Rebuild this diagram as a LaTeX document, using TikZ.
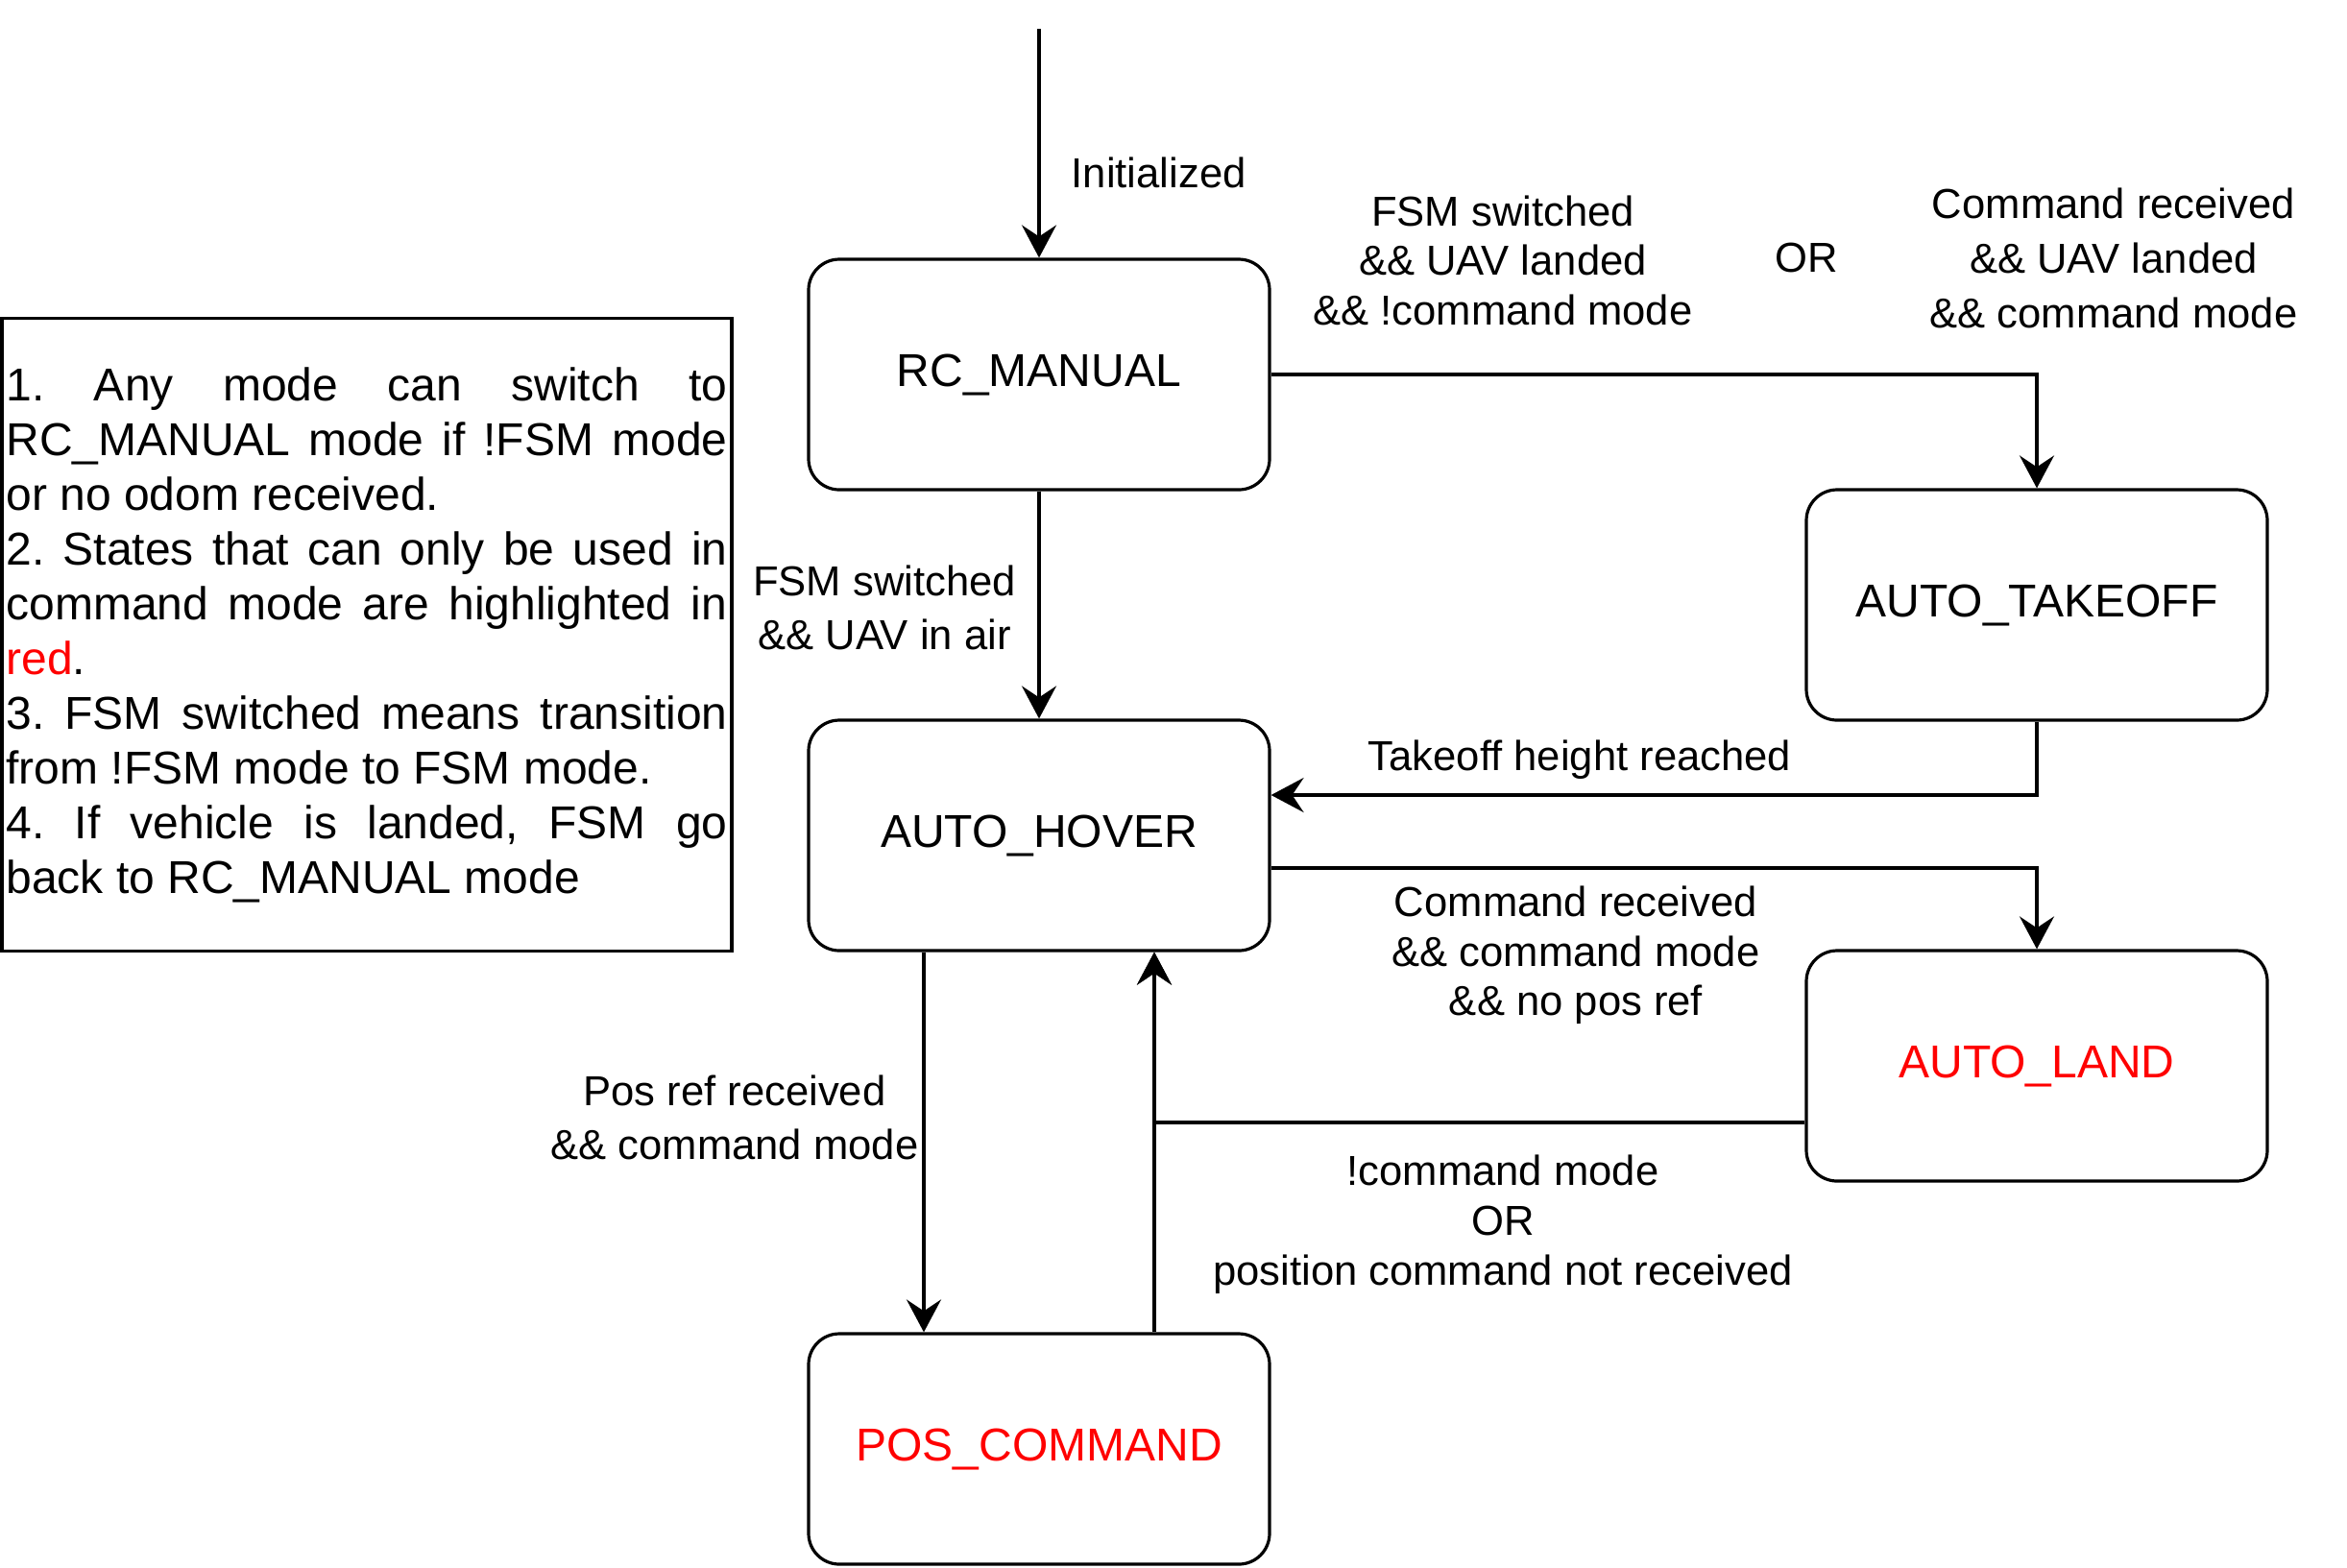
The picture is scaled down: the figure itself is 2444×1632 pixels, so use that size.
\documentclass[tikz,border=0pt]{standalone}
\usepackage{fontspec}
\setmainfont{Liberation Sans}
\usetikzlibrary{arrows.meta,calc}
\definecolor{hred}{HTML}{FF0000}
\begin{document}
\begin{tikzpicture}[x=0.25pt,y=-0.25pt,
  statebox/.style={draw,line width=0.8pt,rounded corners=8pt,minimum width=120pt,minimum height=60pt,inner sep=0pt,font=\fontsize{12}{14.4}\selectfont},
  arr/.style={line width=0.8pt,-{Stealth[length=8.5pt,width=9pt,inset=3pt]}},
  lbl/.style={inner sep=0pt,align=center,font=\fontsize{10.9}{#1}\selectfont},
  lbl/.default=13
]
\useasboundingbox (0,0) rectangle (2444,1632);

% states
\node[statebox] (rc) at (1082,390) {RC\_MANUAL};
\node[statebox] (hover) at (1082,870) {AUTO\_HOVER};
\node[statebox,text=hred] (pos) at (1082,1509) {POS\_COMMAND};
\node[statebox] (takeoff) at (2121,630) {AUTO\_TAKEOFF};
\node[statebox,text=hred] (land) at (2121,1110) {AUTO\_LAND};

% note
\node[draw,line width=0.8pt,text width=187.75pt,inner xsep=1.1pt,inner ysep=0pt,minimum height=164.75pt,align=justify,
  font=\fontsize{12}{14.25}\selectfont] (note) at (382,661) {%
\setlength{\parindent}{0pt}\frenchspacing\hyphenpenalty=10000\hbadness=10000
1. Any mode can switch to\linebreak RC\_MANUAL mode if !FSM mode\linebreak or no odom received.\\
2. States that can only be used in\linebreak command mode are highlighted in\linebreak \textcolor{hred}{red}.\\
3. FSM switched means transition\linebreak from !FSM mode to FSM mode.\\
4. If vehicle is landed, FSM go\linebreak back to RC\_MANUAL mode};

% connectors
\coordinate (init) at (1082,30);
\draw[arr] (init) -- (rc.north);
\draw[arr] (rc.south) -- (hover.north);
\draw[arr] (rc.east) -| (takeoff.north);
\draw[arr] (takeoff.south) |- ($(hover.east)+(0,-42)$);
\draw[arr] ($(hover.east)+(0,34)$) -| (land.north);
\draw[arr] ($(hover.south)+(-120,0)$) -- ($(pos.north)+(-120,0)$);
\draw[arr] ($(pos.north)+(120,0)$) -- ($(hover.south)+(120,0)$);
\draw[arr] ($(land.west)+(0,59)$) -| ($(hover.south)+(120,0)$);

% labels
\node[lbl,anchor=west] (linit) at (1115,180) {Initialized};
\node[lbl=14] (la) at (921,633) {FSM switched\\\&\& UAV in air};
\node[lbl=12.9] (lb) at (1565,271) {FSM switched\\\&\& UAV landed\\\&\& !command mode};
\node[lbl] (lor) at (1881,268) {OR};
\node[lbl=14.25] (lc) at (2201,269) {Command received\\\&\& UAV landed\\\&\& command mode};
\node[lbl] (ld) at (1645,791) {Takeoff height reached};
\node[lbl=12.9] (le) at (1641,995) {Command received\\\&\& command mode\\\&\& no pos ref};
\node[lbl=14] (lf) at (765,1164) {Pos ref received\\\&\& command mode};
\node[lbl=13] (lg) at (1565,1275) {!command mode\\OR\\position command not received};
\end{tikzpicture}
\end{document}
